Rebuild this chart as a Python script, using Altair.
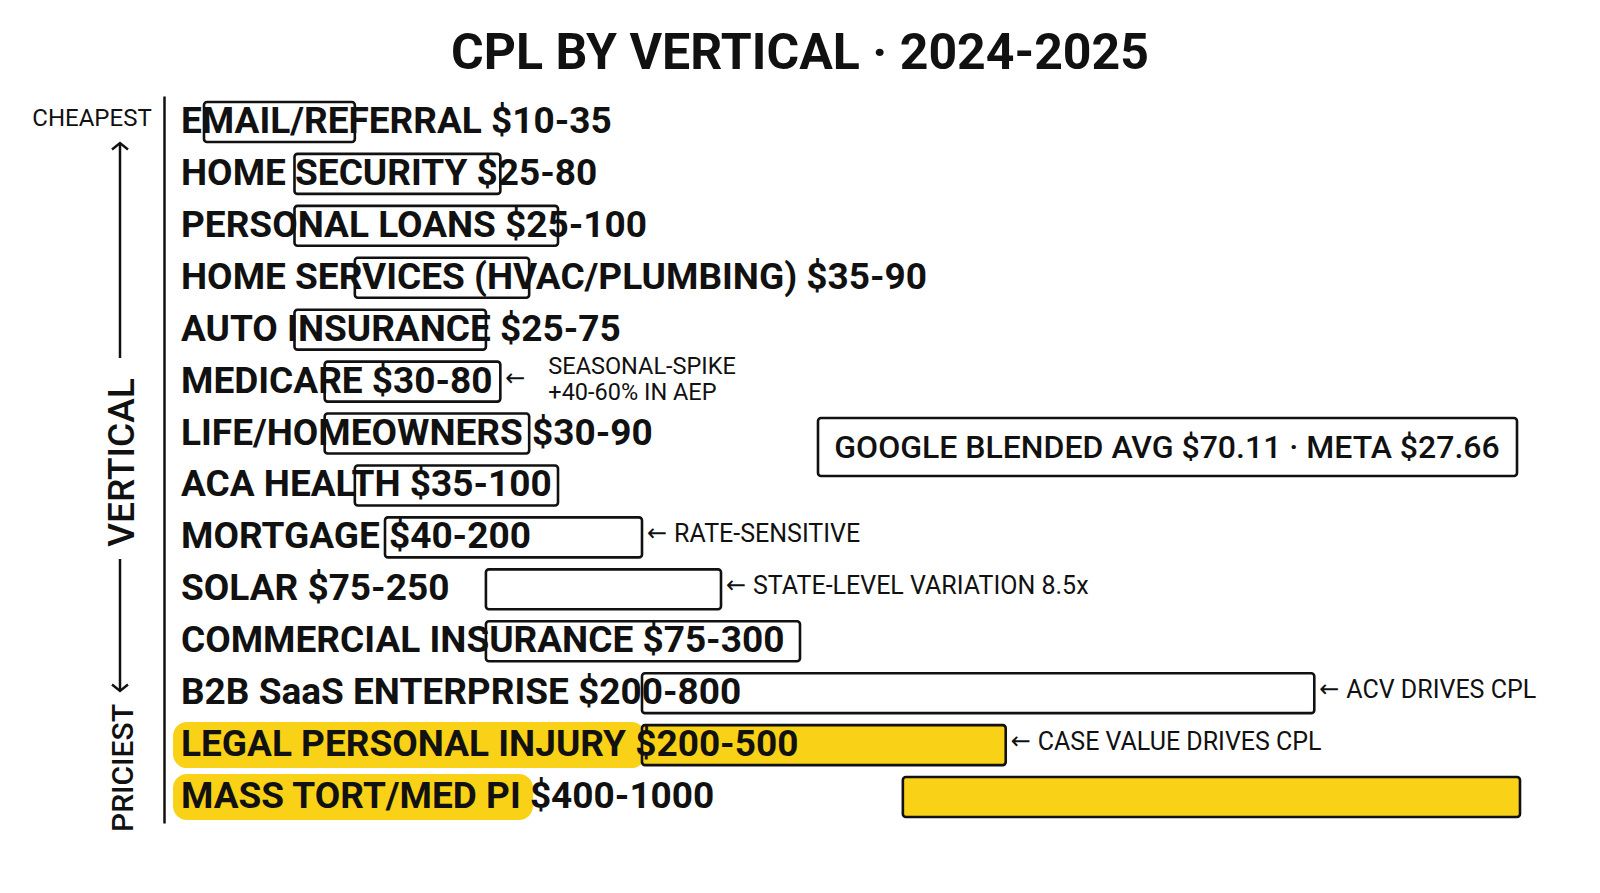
import altair as alt
import pandas as pd

# ---------------- data ----------------
verticals = [
    "EMAIL/REFERRAL", "HOME SECURITY", "PERSONAL LOANS",
    "HOME SERVICES (HVAC/PLUMBING)", "AUTO INSURANCE", "MEDICARE",
    "LIFE/HOMEOWNERS", "ACA HEALTH", "MORTGAGE", "SOLAR",
    "COMMERCIAL INSURANCE", "B2B SaaS ENTERPRISE",
    "LEGAL PERSONAL INJURY", "MASS TORT/MED PI",
]
cpl_low = [10, 25, 25, 35, 25, 30, 30, 35, 40, 75, 75, 200, 200, 400]
cpl_high = [35, 80, 100, 90, 75, 80, 90, 100, 200, 250, 300, 800, 500, 1000]
notes = [
    "", "", "", "", "", "SEASONAL-SPIKE\n+40-60% IN AEP", "", "",
    "RATE-SENSITIVE", "STATE-LEVEL VARIATION 8.5x", "",
    "ACV DRIVES CPL", "CASE VALUE DRIVES CPL", "",
]
highlighted = [False] * 12 + [True, True]
callout = ["GOOGLE BLENDED AVG $70.11 · META $27.66"]
title_text = "CPL BY VERTICAL · 2024-2025"
axis_title = "VERTICAL"
end_labels = ["CHEAPEST", "PRICIEST"]

# ---------------- styling ----------------
INK = "#111111"
YELLOW = "#F9D116"
FONT = "Roboto"
W, H = 1400, 727

df = pd.DataFrame({
    "vertical": verticals,
    "low": cpl_low,
    "high": cpl_high,
    "note": notes,
    "tier": ["highlight" if h else "normal" for h in highlighted],
})
df["label"] = df["vertical"] + " $" + df["low"].astype(str) + "-" + df["high"].astype(str)

deco = pd.DataFrame({"cheap": [end_labels[0]], "pricey": [end_labels[1]]})
call = pd.DataFrame({"text": callout})

# the hand-drawn chart uses a stretched (piecewise) price scale
xscale = alt.Scale(type="linear", domain=[10, 40, 100, 200, 300, 1000],
                   range=[40, 221, 394, 478, 636, 1356], zero=False, nice=False)

y_enc = alt.Y(
    "vertical:N", sort=verticals,
    scale=alt.Scale(paddingInner=0.23, paddingOuter=0.115),
    axis=alt.Axis(title=axis_title, labels=False, ticks=False, grid=False,
                  domain=True, domainColor=INK, domainWidth=2.5,
                  titleX=-42, titleY=366, titleAngle=270, titleAlign="center",
                  titleBaseline="middle", titleFont=FONT, titleFontSize=37,
                  titleFontWeight=500, titleColor=INK),
)

base = alt.Chart(df)

hl = base.transform_filter("datum.tier == 'highlight'").transform_calculate(
    hl_start="9", hl_end="9 + length(datum.vertical) * 22.5"
).mark_bar(color=YELLOW, cornerRadius=14, height=46).encode(
    x=alt.X("hl_start:Q", scale=None, axis=None),
    x2="hl_end:Q",
    y=y_enc,
)

bars = base.mark_bar(stroke=INK, strokeWidth=2.6, cornerRadius=3).encode(
    x=alt.X("low:Q", scale=xscale, axis=None),
    x2="high:Q",
    y=y_enc,
    fill=alt.Fill("tier:N", scale=alt.Scale(domain=["normal", "highlight"],
                                            range=["white", YELLOW]), legend=None),
)

labels = base.mark_text(align="left", baseline="middle", font=FONT, fontSize=37,
                        fontWeight="bold", color=INK).encode(
    x=alt.value(17), y=y_enc, text="label:N")

noted = base.transform_filter("datum.note != ''")
arrows = noted.transform_calculate(arrow="'←'").mark_text(
    align="left", baseline="middle", font="DejaVu Sans", fontSize=24, color=INK,
    dx=5, dy=-3
).encode(x=alt.X("high:Q", scale=xscale, axis=None), y=y_enc, text="arrow:N")

note_one = noted.transform_filter("indexof(datum.note, '\\n') < 0").mark_text(
    align="left", baseline="middle", font=FONT, fontSize=25, color=INK, dx=32, dy=-3
).encode(x=alt.X("high:Q", scale=xscale, axis=None), y=y_enc, text="note:N")

note_two = noted.transform_filter("indexof(datum.note, '\\n') >= 0").mark_text(
    align="left", baseline="middle", font=FONT, fontSize=23.5, color=INK, dx=48, dy=-15,
    lineBreak="\n", lineHeight=26
).encode(x=alt.X("high:Q", scale=xscale, axis=None), y=y_enc, text="note:N")

call_box = alt.Chart(call).mark_rect(fill="white", stroke=INK, strokeWidth=2.6,
                                     cornerRadius=3).encode(
    x=alt.value(654), x2=alt.value(1353), y=alt.value(322), y2=alt.value(380))
call_txt = alt.Chart(call).mark_text(align="center", baseline="middle", font=FONT,
                                     fontSize=32, fontWeight=500, color=INK).encode(
    x=alt.value(1003), y=alt.value(352), text="text:N")

cheap_txt = alt.Chart(deco).mark_text(align="center", baseline="middle", font=FONT,
                                      fontSize=24, color=INK).encode(
    x=alt.value(-72), y=alt.value(23), text="cheap:N")
pricey_txt = alt.Chart(deco).mark_text(align="center", baseline="middle", font=FONT,
                                       fontSize=30, fontWeight=500, color=INK,
                                       angle=270).encode(
    x=alt.value(-40), y=alt.value(672), text="pricey:N")
shaft_up = alt.Chart(deco).mark_rule(color=INK, strokeWidth=2.5).encode(
    x=alt.value(-44), y=alt.value(48), y2=alt.value(262))
shaft_dn = alt.Chart(deco).mark_rule(color=INK, strokeWidth=2.5).encode(
    x=alt.value(-44), y=alt.value(463), y2=alt.value(594))
head_up = alt.Chart(deco).mark_point(shape="M-1,0.8L0,0L1,0.8", size=256, filled=False,
                                     strokeWidth=2.5, color=INK, opacity=1).encode(
    x=alt.value(-44), y=alt.value(47))
head_dn = alt.Chart(deco).mark_point(shape="M-1,-0.8L0,0L1,-0.8", size=256, filled=False,
                                     strokeWidth=2.5, color=INK, opacity=1).encode(
    x=alt.value(-44), y=alt.value(595))

chart = alt.layer(
    hl, bars, labels, arrows, note_one, note_two, call_box, call_txt,
    cheap_txt, pricey_txt, shaft_up, shaft_dn, head_up, head_dn,
).resolve_scale(x="independent").properties(
    width=W, height=H,
    autosize=alt.AutoSizeParams(type="none"),
    padding={"left": 164, "top": 96, "right": 1600 - 164 - W, "bottom": 893 - 96 - H},
    background="white",
    title=alt.TitleParams(title_text, anchor="middle", frame="group", dx=-64, dy=50,
                          offset=27, baseline="alphabetic", font=FONT,
                          fontSize=50, fontWeight="bold", color=INK),
).configure_view(stroke=None)

chart.save("out.html", embed_options={"renderer": "svg", "actions": False})
